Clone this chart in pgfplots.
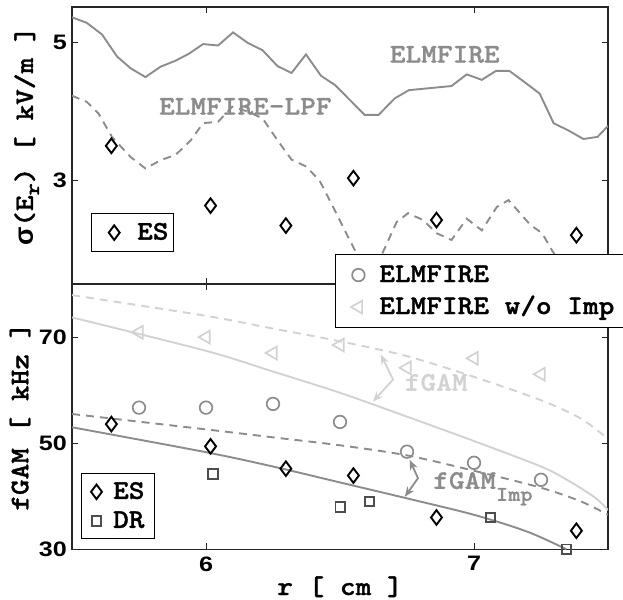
\documentclass[border=0pt]{standalone}
\usepackage{fontspec}
\setmainfont{Liberation Sans}
\newfontfamily\courbf{lmmonolt10-bold.otf}[FakeStretch=1.11, FakeBold=1.2]
\newfontfamily\tickfam{Liberation Sans}[FakeStretch=1.2]
\usepackage{pgfplots}
\pgfplotsset{compat=1.18}
\usetikzlibrary{arrows.meta}

\definecolor{gmid}{HTML}{8C8C8C}
\definecolor{glight}{HTML}{D2D2D2}
\definecolor{gdark}{HTML}{4D4D4D}

\newcommand\labfont{\courbf\fontsize{27}{30}\selectfont}
\newcommand\subfont{\courbf\fontsize{21}{22}\selectfont}
\newcommand\tickfont{\tickfam\bfseries\fontsize{21}{24}\selectfont}

\tikzset{
  twotip/.style={line width=1.8bp, {Stealth[length=10bp,width=8bp]}-{Stealth[length=10bp,width=8bp]}},
}

\pgfplotsset{
  panel/.style={
    scale only axis, width=536bp,
    xmin=5.5, xmax=7.5, xtick={6,7},
    tick align=inside, major tick length=6bp,
    axis line style={line width=1.3bp, black!85},
    every tick/.style={black!85, line width=0.9bp},
    /pgf/number format/assume math mode=true,
    tick label style={font=\tickfont},
    yticklabel style={inner sep=0pt, xshift=-5bp},
    xticklabel style={inner sep=0pt, yshift=-7bp},
    label style={font=\labfont},
    legend cell align=left,
    legend style={draw=black, line width=1.1bp, fill=white, font=\labfont,
      nodes={inner sep=2bp, text height=19bp, text depth=5bp}},
  },
  fit/.style={no marks, line width=1.9bp},
  dash/.style={dash pattern=on 8bp off 6bp},
  es/.style={only marks, mark=diamond, mark size=7.3bp, black, line width=1.9bp},
  dr/.style={only marks, mark=square, mark size=4.8bp, gdark, line width=1.9bp},
  legTop/.style={legend image code/.code={\path (0bp,0bp) (39bp,0bp); \draw[##1] plot coordinates {(19bp,0bp)};}},
  legLow/.style={legend image code/.code={\path (0bp,0bp) (20bp,0bp); \draw[##1] plot coordinates {(6.3bp,0bp)};}},
  legRight/.style={legend image code/.code={\path (0bp,0bp) (33bp,0bp); \draw[##1] plot coordinates {(15bp,0bp)};}},
}

\begin{document}
\begin{tikzpicture}
\path[use as bounding box] (0,0) rectangle (623bp,600bp);

% upper panel: radial electric field fluctuation amplitude
\begin{axis}[panel, at={(72bp,316bp)}, anchor=south west, height=277bp,
  ymin=1.49, ymax=5.52, ytick={3,5}, xticklabels={},
  ylabel={{\rmfamily\bfseries σ}(E\raisebox{-6bp}{\subfont r}) [ kV/m ]},
  ylabel style={at={(axis description cs:-0.0728,0.535)}, anchor=base},
  legend style={at={(axis description cs:0.0349,0.256)}, anchor=north west,
    inner xsep=3bp, inner ysep=5bp}]
\addplot[fit, gmid, forget plot] coordinates {
 (5.500,5.37) (5.555,5.29) (5.612,5.12) (5.668,4.80) (5.718,4.63) (5.774,4.50)
 (5.830,4.65) (5.887,4.74) (5.936,4.84) (5.989,4.98) (6.045,4.96) (6.101,5.15)
 (6.155,5.00) (6.211,4.89) (6.267,4.66) (6.319,4.56) (6.373,4.83) (6.429,4.52)
 (6.483,4.38) (6.536,4.17) (6.592,3.95) (6.644,3.95) (6.704,4.19) (6.757,4.31)
 (6.916,4.37) (6.973,4.54) (7.029,4.46) (7.082,4.59) (7.132,4.59) (7.191,4.42)
 (7.245,4.26) (7.297,3.83) (7.354,3.72) (7.408,3.60) (7.461,3.63) (7.500,3.79)};
\addplot[fit, dash, gmid, forget plot] coordinates {
 (5.500,4.23) (5.555,4.14) (5.599,3.97) (5.649,3.63) (5.718,3.34) (5.774,3.17)
 (5.830,3.29) (5.887,3.37) (5.943,3.58) (5.989,3.83) (6.045,3.85) (6.098,4.07)
 (6.155,4.00) (6.211,3.90) (6.267,3.58) (6.319,3.30) (6.373,3.20) (6.423,3.00)
 (6.486,2.52) (6.536,2.13) (6.561,1.94) (6.610,1.55) (6.667,2.01) (6.711,2.39)
 (6.754,2.52) (6.810,2.42) (6.860,2.23) (6.916,2.13) (6.973,2.44) (7.029,2.27)
 (7.085,2.61) (7.129,2.71) (7.172,2.52) (7.210,2.35) (7.254,2.23) (7.291,1.98)
 (7.341,1.68) (7.397,1.60) (7.453,1.63) (7.500,1.68)};
\addplot[es, legTop] coordinates {
 (5.647,3.50) (6.017,2.63) (6.298,2.34) (6.550,3.03) (6.860,2.42) (7.382,2.20)};
\addlegendentry{ES}
\node[font=\labfont, text=gmid, anchor=base west] at (axis cs:5.812,3.955) {ELMFIRE-LPF};
\node[font=\labfont, text=gmid, anchor=base west] at (axis cs:6.673,4.712) {ELMFIRE};
\end{axis}

% lower panel: GAM frequency
\begin{axis}[panel, at={(72bp,50.7bp)}, anchor=south west, height=265.3bp,
  ymin=30, ymax=80, ytick={30,50,70},
  xlabel={r [ cm ]},
  xlabel style={at={(axis description cs:0.5,0)}, anchor=base, yshift=-45.7bp},
  ylabel={fGAM [ kHz ]},
  ylabel style={at={(axis description cs:-0.0815,0.5)}, anchor=base},
  legend style={at={(axis description cs:0.0162,0.2865)}, anchor=north west,
    inner xsep=8bp, inner ysep=4bp, row sep=1bp}]
\addplot[fit, smooth, dash, glight, forget plot] coordinates {
 (5.50,77.9) (6.00,74.0) (6.25,71.6) (6.50,69.2) (6.75,66.4) (7.00,62.5)
 (7.25,58.1) (7.40,54.6) (7.50,50.8)};
\addplot[fit, smooth, glight, forget plot] coordinates {
 (5.50,73.7) (6.00,67.4) (6.25,63.5) (6.50,59.5) (6.75,55.0) (7.00,50.4)
 (7.25,45.6) (7.35,43.0) (7.45,39.8) (7.50,37.4)};
\addplot[fit, smooth, dash, gmid, forget plot] coordinates {
 (5.50,55.5) (6.00,52.6) (6.25,51.1) (6.50,49.6) (6.75,47.7) (7.00,44.8)
 (7.25,41.6) (7.40,39.0) (7.50,36.5)};
\addplot[fit, smooth, gmid, forget plot] coordinates {
 (5.50,53.0) (6.00,48.3) (6.25,45.6) (6.50,42.6) (6.75,39.6) (7.00,36.5)
 (7.20,33.3) (7.345,30.0)};
\addplot[es, legLow] coordinates {
 (5.647,53.6) (6.017,49.4) (6.298,45.2) (6.550,43.9) (6.860,36.0) (7.382,33.5)};
\addlegendentry{ES}
\addplot[dr, legLow] coordinates {
 (6.027,44.2) (6.501,38.0) (6.610,39.0) (7.062,36.0) (7.345,30.0)};
\addlegendentry{DR}
\draw[glight, twotip]
  (axis cs:6.652,66.7) -- (axis cs:6.698,62.0) -- (axis cs:6.623,57.85);
\draw[gmid, twotip]
  (axis cs:6.760,46.85) -- (axis cs:6.791,43.4) -- (axis cs:6.742,39.9);
\node[font=\labfont, text=glight, anchor=base west] at (axis cs:6.729,59.9) {fGAM};
\node[font=\labfont, text=gmid, anchor=base west] at (axis cs:6.835,41.4)
  {fGAM\raisebox{-12bp}{\subfont Imp}};
\end{axis}

% simulated frequencies, with their own legend
\begin{axis}[panel, hide axis, at={(72bp,50.7bp)}, anchor=south west, height=265.3bp,
  ymin=30, ymax=80,
  legend style={at={(axis description cs:0.4907,1.113)}, anchor=north west,
    inner xsep=7bp, inner ysep=6.5bp, row sep=4bp}]
\addplot[only marks, mark=o, mark size=6.3bp, gmid, line width=1.7bp, legRight] coordinates {
 (5.75,56.7) (6.00,56.7) (6.25,57.4) (6.50,54.0) (6.75,48.4) (7.00,46.3) (7.25,43.1)};
\addlegendentry{ELMFIRE}
\addplot[only marks, mark=triangle, mark size=7.4bp, mark options={rotate=90}, glight,
  line width=1.7bp, legRight] coordinates {
 (5.75,70.9) (6.00,70.0) (6.25,67.0) (6.50,68.5) (6.75,64.2) (7.00,66.0) (7.25,63.0)};
\addlegendentry{ELMFIRE w/o Imp}
\end{axis}
\end{tikzpicture}
\end{document}
